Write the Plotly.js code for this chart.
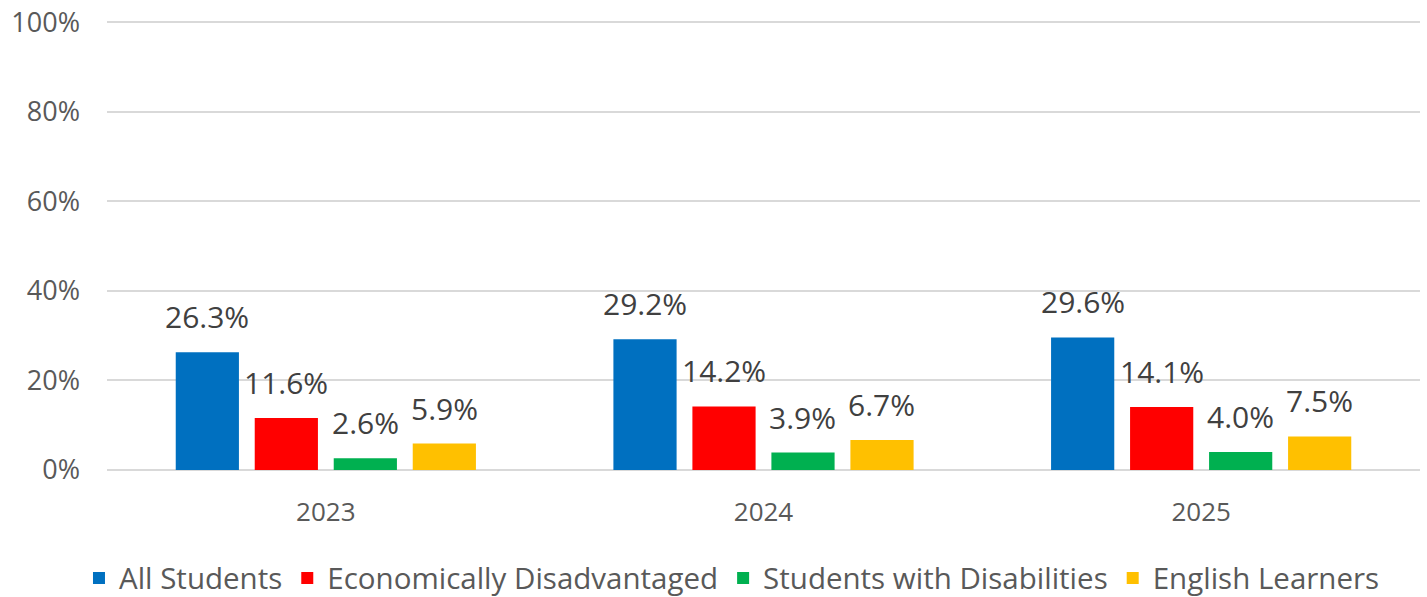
<!DOCTYPE html>
<html><head><meta charset="utf-8">
<script src="https://cdn.plot.ly/plotly-3.0.1.min.js"></script>
<style>html,body{margin:0;padding:0;background:#fff;}#chart{width:1427px;height:597px;}</style>
</head><body><div id="chart"></div>
<script>
const categories = ['2023', '2024', '2025'];
const seriesNames = ['All Students', 'Economically Disadvantaged', 'Students with Disabilities', 'English Learners'];
const allStudents = [26.3, 29.2, 29.6];
const econDisadvantaged = [11.6, 14.2, 14.1];
const studentsWithDisabilities = [2.6, 3.9, 4.0];
const englishLearners = [5.9, 6.7, 7.5];
const yTickVals = [0, 20, 40, 60, 80, 100];
const yTickText = ['0%', '20%', '40%', '60%', '80%', '100%'];

const seriesValues = [allStudents, econDisadvantaged, studentsWithDisabilities, englishLearners];
const colors = ['#0070C0', '#FF0000', '#00B050', '#FFC000'];
const FONT = '"Open Sans", sans-serif';

const margin = {l: 107, r: 7, t: 21, b: 127, autoexpand: false};
const bargap = 0.278, bargroupgap = 0.2;
const plotW = 1427 - margin.l - margin.r;
const slot = plotW / categories.length * (1 - bargap) / seriesValues.length;

const traces = seriesValues.map((vals, j) => ({
  type: 'bar', name: seriesNames[j], x: categories, y: vals,
  marker: {color: colors[j]}, hoverinfo: 'skip'
}));

const annotations = [];
seriesValues.forEach((vals, j) => {
  vals.forEach((v, i) => {
    annotations.push({
      x: i, y: v, xref: 'x', yref: 'y',
      text: v.toFixed(1) + '%', showarrow: false,
      xanchor: 'center', yanchor: 'bottom',
      xshift: (j - (seriesValues.length - 1) / 2) * slot, yshift: 13,
      font: {family: FONT, size: 30, color: '#404040'}
    });
  });
});

const layout = {
  width: 1427, height: 597, margin: margin,
  paper_bgcolor: '#fff', plot_bgcolor: '#fff',
  barmode: 'group', bargap: bargap, bargroupgap: bargroupgap,
  showlegend: true,
  legend: {orientation: 'h', x: 0.476, xanchor: 'center', y: -0.241, yanchor: 'middle',
           font: {family: FONT, size: 29.5, color: '#595959'}, itemwidth: 30},
  xaxis: {type: 'category', range: [-0.5, categories.length - 0.5], autorange: false,
          showgrid: false, zeroline: false, showline: false,
          ticks: '', ticklabelstandoff: 24,
          tickfont: {family: FONT, size: 26, color: '#595959'}},
  yaxis: {range: [0, 100.3], autorange: false, tickvals: yTickVals, ticktext: yTickText,
          showgrid: true, gridcolor: '#D9D9D9', gridwidth: 2,
          zeroline: true, zerolinecolor: '#D9D9D9', zerolinewidth: 2,
          showline: false, ticks: '', ticklabelstandoff: 26,
          tickfont: {family: FONT, size: 27, color: '#595959'}},
  annotations: annotations
};
Plotly.newPlot('chart', traces, layout, {displayModeBar: false, staticPlot: true});
</script></body></html>
